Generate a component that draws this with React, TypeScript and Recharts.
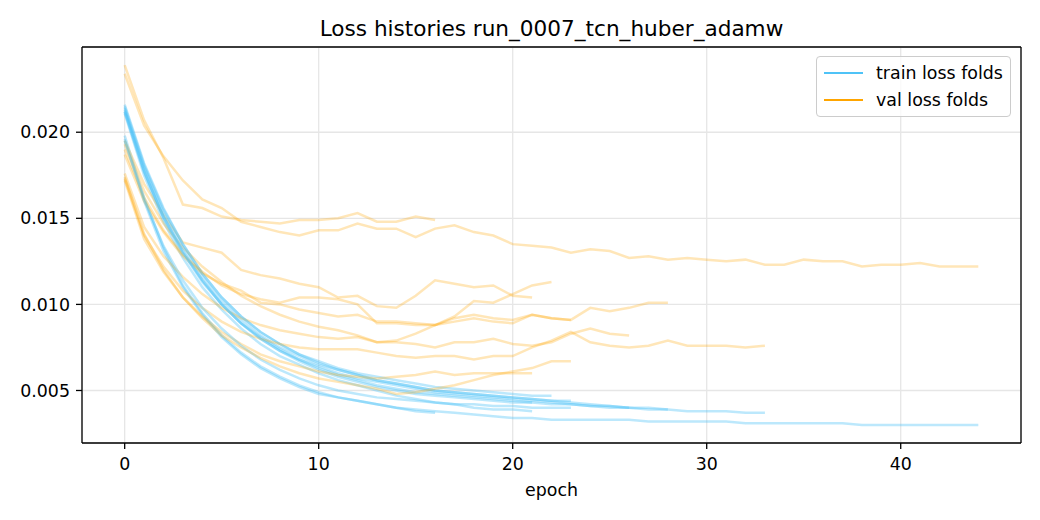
import React from 'react';
import { LineChart, Line, XAxis, YAxis, CartesianGrid, ReferenceLine, Legend } from 'recharts';

// ---- data ----
const TITLE = 'Loss histories run_0007_tcn_huber_adamw';
const X_TICKS = [0, 10, 20, 30, 40];
const Y_TICKS = [0.005, 0.01, 0.015, 0.02];

const trainFoldA = [0.0196, 0.0160, 0.0131, 0.0110, 0.0094, 0.0081, 0.0071, 0.0063, 0.0057, 0.0052, 0.0048, 0.0046, 0.0044, 0.0042, 0.0040, 0.0039, 0.0038, 0.0037, 0.0036, 0.0035, 0.0034, 0.0034, 0.0033, 0.0033, 0.0033, 0.0033, 0.0033, 0.0032, 0.0032, 0.0032, 0.0032, 0.0032, 0.0031, 0.0031, 0.0031, 0.0031, 0.0031, 0.0031, 0.0030, 0.0030, 0.0030, 0.0030, 0.0030, 0.0030, 0.0030];
const valFoldA = [0.0234, 0.0204, 0.0186, 0.0172, 0.0161, 0.0156, 0.0148, 0.0145, 0.0142, 0.0140, 0.0143, 0.0143, 0.0147, 0.0144, 0.0144, 0.0139, 0.0144, 0.0146, 0.0142, 0.0140, 0.0135, 0.0134, 0.0133, 0.0130, 0.0132, 0.0131, 0.0127, 0.0128, 0.0126, 0.0127, 0.0126, 0.0125, 0.0126, 0.0123, 0.0123, 0.0126, 0.0125, 0.0125, 0.0122, 0.0123, 0.0123, 0.0124, 0.0122, 0.0122, 0.0122];

const trainFoldB = [0.0198, 0.0162, 0.0133, 0.0111, 0.0095, 0.0082, 0.0072, 0.0064, 0.0058, 0.0053, 0.0049, 0.0046, 0.0044, 0.0042, 0.0040, 0.0038, 0.0037];
const valFoldB = [0.0239, 0.0207, 0.0185, 0.0158, 0.0156, 0.0151, 0.0149, 0.0148, 0.0147, 0.0149, 0.0149, 0.0150, 0.0153, 0.0148, 0.0148, 0.0151, 0.0149];

const trainFoldC = [0.0211, 0.0175, 0.0148, 0.0127, 0.0110, 0.0097, 0.0086, 0.0077, 0.0070, 0.0065, 0.0060, 0.0056, 0.0053, 0.0050, 0.0047, 0.0045, 0.0043, 0.0042, 0.0040, 0.0039, 0.0039, 0.0038];
const valFoldC = [0.0195, 0.0170, 0.0152, 0.0136, 0.0133, 0.0130, 0.0120, 0.0117, 0.0115, 0.0112, 0.0110, 0.0104, 0.0105, 0.0099, 0.0098, 0.0105, 0.0114, 0.0112, 0.0110, 0.0111, 0.0105, 0.0104];

const trainFoldD = [0.0215, 0.0181, 0.0155, 0.0135, 0.0118, 0.0104, 0.0093, 0.0084, 0.0077, 0.0071, 0.0067, 0.0063, 0.0060, 0.0058, 0.0056, 0.0054, 0.0052, 0.0051, 0.0050, 0.0049, 0.0048, 0.0047, 0.0047];
const valFoldD = [0.0193, 0.0166, 0.0147, 0.0133, 0.0122, 0.0113, 0.0105, 0.0099, 0.0094, 0.0090, 0.0087, 0.0085, 0.0082, 0.0078, 0.0079, 0.0083, 0.0088, 0.0093, 0.0102, 0.0101, 0.0106, 0.0111, 0.0113];

const trainFoldE = [0.0214, 0.0180, 0.0153, 0.0133, 0.0116, 0.0102, 0.0091, 0.0082, 0.0075, 0.0070, 0.0065, 0.0062, 0.0059, 0.0056, 0.0054, 0.0052, 0.0050, 0.0049, 0.0048, 0.0047, 0.0046, 0.0045, 0.0044, 0.0044];
const valFoldE = [0.0187, 0.0160, 0.0142, 0.0128, 0.0118, 0.0112, 0.0108, 0.0101, 0.0100, 0.0097, 0.0095, 0.0093, 0.0094, 0.0090, 0.0090, 0.0089, 0.0088, 0.0090, 0.0092, 0.0090, 0.0089, 0.0094, 0.0092, 0.0091];

const trainFoldF = [0.0212, 0.0177, 0.0150, 0.0130, 0.0113, 0.0100, 0.0089, 0.0081, 0.0074, 0.0068, 0.0064, 0.0060, 0.0057, 0.0055, 0.0053, 0.0051, 0.0049, 0.0048, 0.0047, 0.0046, 0.0045, 0.0044, 0.0043, 0.0042, 0.0041, 0.0041, 0.0040];
const valFoldF = [0.0176, 0.0145, 0.0128, 0.0116, 0.0106, 0.0098, 0.0092, 0.0088, 0.0085, 0.0083, 0.0081, 0.0080, 0.0081, 0.0078, 0.0078, 0.0077, 0.0075, 0.0078, 0.0078, 0.0080, 0.0077, 0.0076, 0.0078, 0.0083, 0.0086, 0.0083, 0.0082];

const trainFoldG = [0.0216, 0.0182, 0.0156, 0.0135, 0.0118, 0.0104, 0.0093, 0.0084, 0.0077, 0.0071, 0.0066, 0.0062, 0.0059, 0.0056, 0.0054, 0.0052, 0.0050, 0.0049, 0.0048, 0.0047, 0.0046, 0.0045, 0.0044, 0.0043, 0.0042, 0.0041, 0.0040, 0.0040, 0.0039];
const valFoldG = [0.0190, 0.0162, 0.0143, 0.0129, 0.0119, 0.0111, 0.0106, 0.0103, 0.0101, 0.0104, 0.0104, 0.0103, 0.0100, 0.0089, 0.0089, 0.0088, 0.0088, 0.0092, 0.0094, 0.0092, 0.0091, 0.0094, 0.0092, 0.0091, 0.0098, 0.0096, 0.0098, 0.0101, 0.0101];

const trainFoldH = [0.0213, 0.0178, 0.0151, 0.0131, 0.0114, 0.0100, 0.0089, 0.0080, 0.0073, 0.0068, 0.0063, 0.0059, 0.0056, 0.0053, 0.0051, 0.0049, 0.0048, 0.0047, 0.0046, 0.0045, 0.0044, 0.0043, 0.0042, 0.0042, 0.0041, 0.0040, 0.0040, 0.0039, 0.0039, 0.0038, 0.0038, 0.0038, 0.0037, 0.0037];
const valFoldH = [0.0173, 0.0140, 0.0122, 0.0108, 0.0098, 0.0090, 0.0084, 0.0080, 0.0077, 0.0075, 0.0074, 0.0074, 0.0074, 0.0072, 0.0070, 0.0069, 0.0070, 0.0070, 0.0068, 0.0070, 0.0070, 0.0075, 0.0079, 0.0084, 0.0078, 0.0076, 0.0075, 0.0076, 0.0079, 0.0076, 0.0076, 0.0076, 0.0075, 0.0076];

const trainFoldI = [0.0212, 0.0177, 0.0151, 0.0130, 0.0114, 0.0100, 0.0089, 0.0080, 0.0073, 0.0067, 0.0062, 0.0058, 0.0055, 0.0052, 0.0050, 0.0048, 0.0047, 0.0046, 0.0045, 0.0044, 0.0043, 0.0043];
const valFoldI = [0.0172, 0.0138, 0.0119, 0.0104, 0.0093, 0.0084, 0.0077, 0.0071, 0.0067, 0.0064, 0.0061, 0.0059, 0.0058, 0.0057, 0.0058, 0.0059, 0.0061, 0.0059, 0.0060, 0.0060, 0.0060, 0.0060];

const trainFoldJ = [0.0195, 0.0161, 0.0134, 0.0114, 0.0098, 0.0086, 0.0076, 0.0068, 0.0062, 0.0057, 0.0053, 0.0050, 0.0048, 0.0046, 0.0045, 0.0044, 0.0043, 0.0042, 0.0042, 0.0041, 0.0041, 0.0040, 0.0040, 0.0040];
const valFoldJ = [0.0174, 0.0141, 0.0120, 0.0104, 0.0092, 0.0082, 0.0075, 0.0069, 0.0064, 0.0060, 0.0057, 0.0055, 0.0053, 0.0051, 0.0048, 0.0049, 0.0051, 0.0053, 0.0056, 0.0059, 0.0061, 0.0063, 0.0067, 0.0067];

const TRAIN_FOLDS = [trainFoldA, trainFoldB, trainFoldC, trainFoldD, trainFoldE, trainFoldF, trainFoldG, trainFoldH, trainFoldI, trainFoldJ];
const VAL_FOLDS = [valFoldA, valFoldB, valFoldC, valFoldD, valFoldE, valFoldF, valFoldG, valFoldH, valFoldI, valFoldJ];

// ---- styles ----
const TRAIN_COLOR = '#4FC3F7';
const VAL_COLOR = '#FFA500';
const FONT = 'DejaVu Sans, sans-serif';
const X_DOMAIN: [number, number] = [-2.2, 46.2];
const Y_DOMAIN: [number, number] = [0.00195, 0.02495];

const toPoints = (vals: number[]) => vals.map((v, i) => ({ epoch: i, loss: v }));

const LegendBox = () => (
  <div
    style={{
      position: 'relative',
      width: 195,
      height: 61,
      boxSizing: 'border-box',
      border: '1px solid #cccccc',
      borderRadius: 4,
      background: 'rgba(255,255,255,0.8)',
      fontFamily: FONT,
      fontSize: 17.4,
      color: '#000',
    }}
  >
    {[
      { label: 'train loss folds', color: TRAIN_COLOR, cy: 16 },
      { label: 'val loss folds', color: VAL_COLOR, cy: 43 },
    ].map((it) => (
      <React.Fragment key={it.label}>
        <div style={{ position: 'absolute', left: 7, top: it.cy - 1.5, width: 39, height: 2.8, background: it.color }} />
        <div style={{ position: 'absolute', left: 59, top: it.cy - 12, lineHeight: '24px', whiteSpace: 'nowrap' }}>{it.label}</div>
      </React.Fragment>
    ))}
  </div>
);

export default function App() {
  const series: React.ReactNode[] = [];
  TRAIN_FOLDS.forEach((tr, k) => {
    series.push(
      <Line
        key={`t${k}`}
        data={toPoints(tr)}
        dataKey="loss"
        type="linear"
        stroke={TRAIN_COLOR}
        strokeOpacity={0.38}
        strokeWidth={2.5}
        dot={false}
        activeDot={false}
        legendType="none"
        isAnimationActive={false}
      />
    );
    series.push(
      <Line
        key={`v${k}`}
        data={toPoints(VAL_FOLDS[k])}
        dataKey="loss"
        type="linear"
        stroke={VAL_COLOR}
        strokeOpacity={0.28}
        strokeWidth={2.5}
        dot={false}
        activeDot={false}
        legendType="none"
        isAnimationActive={false}
      />
    );
  });

  return (
    <div style={{ position: 'absolute', left: 0, top: 0, width: 1040, height: 520, background: '#fff' }}>
      <div
        style={{
          position: 'absolute',
          left: 82,
          width: 939,
          top: 17,
          textAlign: 'center',
          fontFamily: FONT,
          fontSize: 21.6,
          lineHeight: '24px',
          color: '#000',
          zIndex: 2,
        }}
      >
        {TITLE}
      </div>
      <LineChart width={1040} height={520} margin={{ top: 47, right: 19, bottom: 17, left: 0 }}>
        <CartesianGrid stroke="#e6e6e6" strokeWidth={1.3} />
        <XAxis
          type="number"
          dataKey="epoch"
          domain={X_DOMAIN}
          ticks={X_TICKS}
          allowDataOverflow
          height={60}
          tickSize={6}
          tickMargin={9}
          stroke="#000"
          strokeWidth={1.3}
          tick={{ fill: '#000', fontSize: 17.4, fontFamily: FONT }}
          label={{ value: 'epoch', position: 'insideBottom', offset: 7, fill: '#000', fontSize: 17.4, fontFamily: FONT }}
        />
        <YAxis
          type="number"
          domain={Y_DOMAIN}
          ticks={Y_TICKS}
          allowDataOverflow
          width={82}
          tickSize={6}
          tickMargin={6}
          stroke="#000"
          strokeWidth={1.3}
          tickFormatter={(v: number) => v.toFixed(3)}
          tick={{ fill: '#000', fontSize: 17.4, fontFamily: FONT }}
        />
        {series}
        <ReferenceLine x={X_DOMAIN[1]} stroke="#000" strokeWidth={1.3} />
        <ReferenceLine y={Y_DOMAIN[1]} stroke="#000" strokeWidth={1.3} />
        <Legend
          layout="vertical"
          align="center"
          verticalAlign="middle"
          wrapperStyle={{ left: 816, top: 56, width: 195, height: 61 }}
          content={() => <LegendBox />}
        />
      </LineChart>
    </div>
  );
}
